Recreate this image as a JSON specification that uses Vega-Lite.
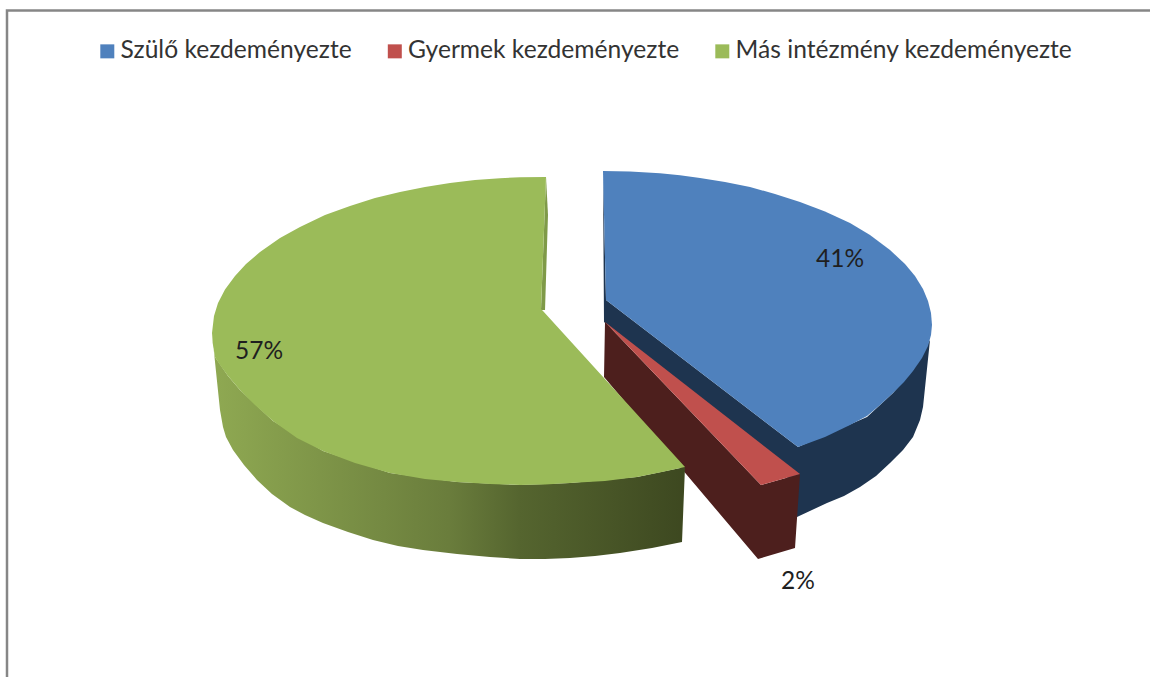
{"$schema":"https://vega.github.io/schema/vega-lite/v6.json","width":1150,"height":677,"autosize":{"type":"none"},"padding":0,"background":"white","config":{"view":{"stroke":null}},
"datasets":{
"frame":[{"x":7,"y":677},{"x":7,"y":10.5},{"x":1150,"y":10.5}],
"blueWall":[{"x":603,"y":172},{"x":606,"y":300},{"x":798,"y":447},{"x":867,"y":417},{"x":893,"y":393},{"x":913,"y":370},{"x":930,"y":340},{"x":923,"y":407},{"x":920,"y":420},{"x":913,"y":437},{"x":903,"y":450},{"x":890,"y":463},{"x":876,"y":476},{"x":860,"y":487},{"x":844,"y":496},{"x":827,"y":503},{"x":812,"y":510},{"x":797,"y":517},{"x":790,"y":480},{"x":604,"y":322}],
"redWall":[{"x":605,"y":322},{"x":761,"y":485},{"x":800,"y":474},{"x":795,"y":548},{"x":758,"y":559},{"x":604,"y":377}],
"greenWall":[{"x":212,"y":333},{"x":213,"y":345},{"x":215,"y":357},{"x":228,"y":376},{"x":240,"y":390},{"x":273,"y":421},{"x":323,"y":451},{"x":390,"y":473},{"x":457,"y":482},{"x":520,"y":485},{"x":570,"y":483},{"x":637,"y":477},{"x":685,"y":467},{"x":682,"y":542},{"x":652,"y":548},{"x":620,"y":553},{"x":595,"y":556},{"x":570,"y":558},{"x":545,"y":559},{"x":520,"y":559},{"x":490,"y":557},{"x":457,"y":554},{"x":423,"y":550},{"x":398,"y":546},{"x":373,"y":540},{"x":348,"y":532},{"x":323,"y":523},{"x":305,"y":515},{"x":290,"y":507},{"x":272,"y":494},{"x":257,"y":480},{"x":244,"y":465},{"x":233,"y":450},{"x":226,"y":437},{"x":223,"y":427},{"x":220,"y":410}],
"greenInner":[{"x":546,"y":177},{"x":548,"y":215},{"x":545,"y":310},{"x":541,"y":310}],
"tops":[
{"slice":"Gyermek kezdeményezte","x":605,"y":322},{"slice":"Gyermek kezdeményezte","x":800,"y":474},{"slice":"Gyermek kezdeményezte","x":761,"y":485},
{"slice":"Más intézmény kezdeményezte","x":546,"y":177},{"slice":"Más intézmény kezdeményezte","x":520,"y":177.3},{"slice":"Más intézmény kezdeményezte","x":500,"y":178.2},{"slice":"Más intézmény kezdeményezte","x":475,"y":180},{"slice":"Más intézmény kezdeményezte","x":450,"y":183},{"slice":"Más intézmény kezdeményezte","x":425,"y":187},{"slice":"Más intézmény kezdeményezte","x":400,"y":192},{"slice":"Más intézmény kezdeményezte","x":375,"y":198},{"slice":"Más intézmény kezdeményezte","x":350,"y":206},{"slice":"Más intézmény kezdeményezte","x":325,"y":215},{"slice":"Más intézmény kezdeményezte","x":300,"y":227},{"slice":"Más intézmény kezdeményezte","x":280,"y":238},{"slice":"Más intézmény kezdeményezte","x":260,"y":252},{"slice":"Más intézmény kezdeményezte","x":246,"y":264},{"slice":"Más intézmény kezdeményezte","x":235,"y":276},{"slice":"Más intézmény kezdeményezte","x":225,"y":289.5},{"slice":"Más intézmény kezdeményezte","x":218,"y":303},{"slice":"Más intézmény kezdeményezte","x":214,"y":316},{"slice":"Más intézmény kezdeményezte","x":212,"y":333},{"slice":"Más intézmény kezdeményezte","x":213,"y":345},{"slice":"Más intézmény kezdeményezte","x":215,"y":357},{"slice":"Más intézmény kezdeményezte","x":220,"y":365},{"slice":"Más intézmény kezdeményezte","x":228,"y":376},{"slice":"Más intézmény kezdeményezte","x":240,"y":390},{"slice":"Más intézmény kezdeményezte","x":255,"y":405},{"slice":"Más intézmény kezdeményezte","x":273,"y":421},{"slice":"Más intézmény kezdeményezte","x":297,"y":438},{"slice":"Más intézmény kezdeményezte","x":323,"y":451},{"slice":"Más intézmény kezdeményezte","x":355,"y":463},{"slice":"Más intézmény kezdeményezte","x":390,"y":473},{"slice":"Más intézmény kezdeményezte","x":425,"y":479},{"slice":"Más intézmény kezdeményezte","x":457,"y":482},{"slice":"Más intézmény kezdeményezte","x":490,"y":484},{"slice":"Más intézmény kezdeményezte","x":520,"y":485},{"slice":"Más intézmény kezdeményezte","x":545,"y":484.5},{"slice":"Más intézmény kezdeményezte","x":570,"y":483},{"slice":"Más intézmény kezdeményezte","x":605,"y":481},{"slice":"Más intézmény kezdeményezte","x":637,"y":477},{"slice":"Más intézmény kezdeményezte","x":662,"y":472},{"slice":"Más intézmény kezdeményezte","x":685,"y":467},{"slice":"Más intézmény kezdeményezte","x":543,"y":311},{"slice":"Más intézmény kezdeményezte","x":541,"y":309},
{"slice":"Szülő kezdeményezte","x":603,"y":171},{"slice":"Szülő kezdeményezte","x":630,"y":171.5},{"slice":"Szülő kezdeményezte","x":660,"y":173.3},{"slice":"Szülő kezdeményezte","x":680,"y":175.3},{"slice":"Szülő kezdeményezte","x":700,"y":178},{"slice":"Szülő kezdeményezte","x":725,"y":182},{"slice":"Szülő kezdeményezte","x":750,"y":187},{"slice":"Szülő kezdeményezte","x":775,"y":194},{"slice":"Szülő kezdeményezte","x":800,"y":202},{"slice":"Szülő kezdeményezte","x":825,"y":211.5},{"slice":"Szülő kezdeményezte","x":850,"y":223},{"slice":"Szülő kezdeményezte","x":870,"y":235},{"slice":"Szülő kezdeményezte","x":890,"y":250},{"slice":"Szülő kezdeményezte","x":905,"y":264},{"slice":"Szülő kezdeményezte","x":915,"y":276},{"slice":"Szülő kezdeményezte","x":923,"y":289},{"slice":"Szülő kezdeményezte","x":928,"y":301},{"slice":"Szülő kezdeményezte","x":931,"y":313},{"slice":"Szülő kezdeményezte","x":932,"y":325},{"slice":"Szülő kezdeményezte","x":931,"y":335},{"slice":"Szülő kezdeményezte","x":928,"y":346},{"slice":"Szülő kezdeményezte","x":922,"y":358},{"slice":"Szülő kezdeményezte","x":913,"y":371},{"slice":"Szülő kezdeményezte","x":904,"y":382},{"slice":"Szülő kezdeményezte","x":893,"y":393},{"slice":"Szülő kezdeményezte","x":880,"y":405},{"slice":"Szülő kezdeményezte","x":867,"y":416},{"slice":"Szülő kezdeményezte","x":850,"y":425},{"slice":"Szülő kezdeményezte","x":825,"y":437},{"slice":"Szülő kezdeményezte","x":798,"y":447},{"slice":"Szülő kezdeményezte","x":606,"y":300}],
"labels":[{"slice":"Szülő kezdeményezte","share":"41%","x":840,"y":259.5},{"slice":"Gyermek kezdeményezte","share":"2%","x":798,"y":582},{"slice":"Más intézmény kezdeményezte","share":"57%","x":259,"y":352}]
},
"encoding":{"x":{"field":"x","type":"quantitative","scale":{"domain":[0,1150],"nice":false,"zero":false},"axis":null},"y":{"field":"y","type":"quantitative","scale":{"domain":[677,0],"nice":false,"zero":false},"axis":null}},
"layer":[
{"data":{"name":"frame"},"mark":{"type":"line","order":false,"stroke":"#868686","strokeWidth":2.5}},
{"data":{"name":"blueWall"},"mark":{"type":"line","order":false,"filled":true,"fill":"#1e344f","strokeWidth":0}},
{"data":{"name":"redWall"},"mark":{"type":"line","order":false,"filled":true,"fill":"#4d1f1d","strokeWidth":0}},
{"data":{"name":"greenInner"},"mark":{"type":"line","order":false,"filled":true,"fill":"#7f9a48","strokeWidth":0}},
{"data":{"name":"greenWall"},"mark":{"type":"line","order":false,"filled":true,"strokeWidth":0,"fill":{"gradient":"linear","x1":0,"y1":0,"x2":1,"y2":0,"stops":[{"offset":0,"color":"#8fa952"},{"offset":0.5,"color":"#6a7d3c"},{"offset":0.65,"color":"#55652f"},{"offset":1,"color":"#3d4820"}]}}},
{"data":{"name":"tops"},"mark":{"type":"line","order":false,"filled":true,"strokeWidth":0},"encoding":{"color":{"field":"slice","type":"nominal","scale":{"domain":["Szülő kezdeményezte","Gyermek kezdeményezte","Más intézmény kezdeményezte"],"range":["#4f81bd","#c0504d","#9bbb59"]},"legend":{"title":null,"orient":"none","legendX":95,"legendY":39,"padding":0,"direction":"horizontal","symbolType":"square","symbolSize":196,"symbolStrokeWidth":0,"columnPadding":30.5,"labelOffset":1,"labelFont":"Lato","labelFontSize":24.6,"labelColor":"#333333","labelLimit":0}}}},
{"data":{"name":"labels"},"mark":{"type":"text","font":"Lato","fontSize":24.5,"color":"#1f1f1f","align":"center","baseline":"middle"},"encoding":{"text":{"field":"share","type":"nominal"}}}
]}
